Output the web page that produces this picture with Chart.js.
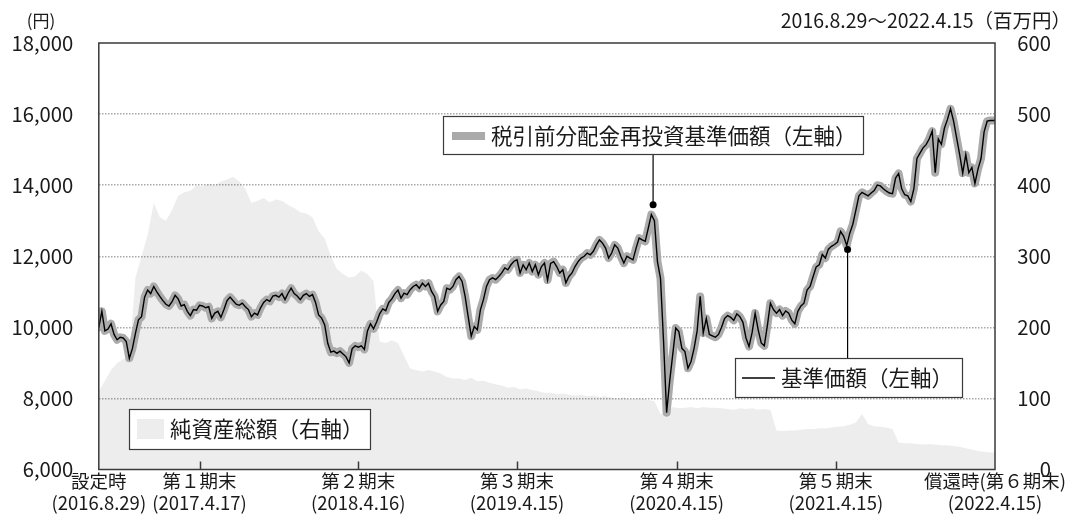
<!DOCTYPE html>
<html>
<head>
<meta charset="utf-8">
<script src="https://cdn.jsdelivr.net/npm/chart.js@4/dist/chart.umd.min.js"></script>
<style>
  html, body { margin: 0; padding: 0; background: #ffffff; }
  canvas { display: block; }
</style>
</head>
<body>
<canvas id="c" width="1073" height="515"></canvas>
<script>
// Fiscal period ends, in days from inception (2016.8.29)
const periodDays = [0, 231, 595, 959, 1325, 1690, 2055];
const periodLabels = [
  ['設定時', '(2016.8.29)'],
  ['第１期末', '(2017.4.17)'],
  ['第２期末', '(2018.4.16)'],
  ['第３期末', '(2019.4.15)'],
  ['第４期末', '(2020.4.15)'],
  ['第５期末', '(2021.4.15)'],
  ['償還時(第６期末)', '(2022.4.15)']
];

// Weekly NAV (円); the last entry is the redemption date
const navStepDays = 7;
const lastDay = 2055;
const navValues = [
  10000, 10450, 9900, 9950, 10100, 9800, 9650, 9720, 9700, 9600,
  9130, 9400, 9830, 10210, 10300, 10850, 11050, 10950, 11150, 11000,
  10870, 10750, 10650, 10600, 10720, 10900, 10800, 10600, 10640, 10450,
  10330, 10500, 10480, 10620, 10600, 10550, 10580, 10250, 10400, 10450,
  10280, 10500, 10750, 10850, 10750, 10650, 10620, 10680, 10580, 10500,
  10300, 10400, 10350, 10550, 10700, 10780, 10730, 10880, 10900, 10850,
  10950, 10780, 10960, 11100, 10950, 10880, 10780, 10900, 10950, 10870,
  10920, 10700, 10350, 10260, 10070, 9550, 9300, 9330, 9270, 9330,
  9250, 9170, 9000, 9400, 9480, 9440, 9480, 9380, 9900, 10100,
  9960, 10150, 10380, 10520, 10470, 10700, 10800, 10950, 11050, 10820,
  10960, 10920, 11060, 11150, 11200, 11100, 11240, 11150, 11240, 11010,
  10870, 10450, 10630, 10730, 11100, 11060, 11150, 11340, 11430, 11290,
  10870, 10300, 9750, 10020, 9930, 10490, 10780, 11150, 11340, 11390,
  11340, 11430, 11530, 11670, 11620, 11760, 11860, 11900, 11530, 11760,
  11620, 11810, 11570, 11760, 11480, 11710, 11810, 11330, 11800, 11850,
  11710, 11530, 11620, 11250, 11430, 11530, 11710, 11850, 11950, 12000,
  12090, 12040, 12140, 12320, 12460, 12370, 12230, 11950, 12090, 12320,
  12230, 12000, 11810, 12000, 11950, 11900, 12230, 12510, 12460, 12420,
  12790, 13170, 13000, 11850, 11380, 9600, 7600, 8480, 9230, 9980,
  9880, 9410, 9320, 8850, 9040, 9410, 9900, 10870, 9840, 10250,
  9800, 9760, 9720, 9800, 10000, 10250, 10330, 10280, 10200, 10380,
  10300, 10140, 9700, 9460, 9850, 10400, 9930, 9560, 9480, 10050,
  10680, 10500, 10400, 10500, 10330, 10460, 10400, 10200, 10100, 10450,
  10600, 10680, 11050, 11150, 11430, 11700, 11760, 12050, 11950, 12200,
  12280, 12330, 12400, 12700, 12560, 12300, 12650, 12900, 13300, 13700,
  13800, 13750, 13700, 13780, 13850, 14000, 13980, 13900, 13830, 13780,
  13760, 14200, 14330, 13900, 13730, 13700, 13540, 13900, 14750, 14900,
  15050, 15140, 15300, 15520, 14350, 15300, 15150, 15600, 15850, 16150,
  15800, 15330, 14860, 14340, 14860, 14350, 14500, 14050, 14450, 14750,
  15500, 15800, 15820, 15820, 15820
];

// Net assets (百万円), every two weeks
const assetStepDays = 14;
const assetValues = [
  110, 125, 140, 150, 155, 158, 270, 300, 330, 375,
  355, 350, 365, 385, 390, 392, 400, 398, 402, 400,
  405, 408, 412, 405, 395, 375, 378, 382, 376, 380,
  378, 372, 368, 362, 360, 355, 335, 325, 300, 282,
  275, 270, 272, 280, 275, 265, 180, 178, 182, 178,
  160, 142, 140, 138, 140, 138, 135, 130, 128, 128,
  126, 129, 124, 125, 122, 120, 118, 115, 116, 113,
  114, 112, 110, 108, 108, 106, 107, 105, 104, 105,
  103, 104, 102, 103, 101, 100, 101, 99, 100, 100,
  98, 96, 78, 80, 88, 86, 87, 88, 86, 88,
  87, 87, 86, 85, 84, 86, 85, 86, 84, 85,
  84, 55, 54, 55, 55, 56, 57, 57, 58, 58,
  59, 60, 61, 63, 66, 78, 64, 61, 60, 59,
  57, 38, 37, 37, 36, 35, 36, 35, 34, 34,
  33, 32, 30, 28, 26, 25, 24, 24
];

// Callout anchors: [day, NAV]
const reinvestCallout = [1271, 13450];
const navCallout = [1717, 12190];

const FONT = '"Noto Sans CJK JP", "Noto Sans", sans-serif';
const INK = '#1a1a1a';
const FRAME = '#3a3a3a';

const toPoints = (vals, step) => vals.map((v, i) => ({ x: Math.min(i * step, lastDay), y: v }));
const navPoints = toPoints(navValues, navStepDays);
const assetPoints = toPoints(assetValues, assetStepDays);

const fmt = n => String(n).replace(/\B(?=(\d{3})+(?!\d))/g, ',');

const decor = {
  id: 'decor',
  afterDatasetsDraw(chart) {
    const { ctx, chartArea: a, scales: { x } } = chart;
    ctx.save();
    // period-end tick marks along the bottom edge
    ctx.strokeStyle = FRAME;
    ctx.lineWidth = 1.5;
    periodDays.slice(1, -1).forEach(d => {
      const px = Math.round(x.getPixelForValue(d)) + 0.5;
      ctx.beginPath();
      ctx.moveTo(px, a.bottom);
      ctx.lineTo(px, a.bottom - 8);
      ctx.stroke();
    });
    // plot frame
    ctx.strokeRect(a.left, a.top, a.right - a.left, a.bottom - a.top);
    ctx.restore();
  },
  afterDraw(chart) {
    const { ctx, scales: { x, y } } = chart;
    ctx.save();
    ctx.textBaseline = 'middle';

    // axis unit captions
    ctx.fillStyle = INK;
    ctx.font = '17px ' + FONT;
    ctx.textAlign = 'center';
    ctx.fillText('(円)', 41, 21);
    ctx.textAlign = 'right';
    ctx.font = '19.5px ' + FONT;
    ctx.fillText('2016.8.29～2022.4.15（百万円）', 1071, 21);

    const box = (l, t, w, h) => {
      ctx.fillStyle = '#ffffff';
      ctx.fillRect(l, t, w, h);
      ctx.strokeStyle = FRAME;
      ctx.lineWidth = 1.2;
      ctx.strokeRect(l + 0.5, t + 0.5, w, h);
    };
    const dot = (px, py) => {
      ctx.fillStyle = '#000';
      ctx.beginPath();
      ctx.arc(px, py, 3.5, 0, Math.PI * 2);
      ctx.fill();
    };
    const leader = (px, y0, y1) => {
      ctx.strokeStyle = '#000';
      ctx.lineWidth = 1.2;
      ctx.beginPath();
      ctx.moveTo(px, y0);
      ctx.lineTo(px, y1);
      ctx.stroke();
    };

    ctx.font = '21.5px ' + FONT;
    ctx.textAlign = 'left';

    // reinvested NAV callout
    const r1x = x.getPixelForValue(reinvestCallout[0]);
    const r1y = y.getPixelForValue(reinvestCallout[1]);
    leader(r1x, 154, r1y);
    dot(r1x, r1y);
    box(443, 116, 420, 38);
    ctx.strokeStyle = '#aaaaaa';
    ctx.lineWidth = 8;
    ctx.beginPath();
    ctx.moveTo(452, 136);
    ctx.lineTo(485, 136);
    ctx.stroke();
    ctx.fillStyle = INK;
    ctx.fillText('税引前分配金再投資基準価額（左軸）', 491, 136);

    // NAV callout
    const r2x = x.getPixelForValue(navCallout[0]);
    const r2y = y.getPixelForValue(navCallout[1]);
    leader(r2x, r2y, 358);
    dot(r2x, r2y);
    box(735, 358, 227, 39);
    ctx.strokeStyle = '#000';
    ctx.lineWidth = 1.5;
    ctx.beginPath();
    ctx.moveTo(742, 378);
    ctx.lineTo(775, 378);
    ctx.stroke();
    ctx.fillStyle = INK;
    ctx.fillText('基準価額（左軸）', 781, 378);

    // net assets legend
    box(129, 409, 241, 40);
    ctx.fillStyle = '#ededed';
    ctx.fillRect(137, 419, 27, 20);
    ctx.fillStyle = INK;
    ctx.fillText('純資産総額（右軸）', 170, 429);

    ctx.restore();
  }
};

new Chart(document.getElementById('c'), {
  type: 'line',
  data: {
    datasets: [
      {
        label: '基準価額',
        data: navPoints,
        yAxisID: 'y',
        borderColor: '#000000',
        borderWidth: 1.4,
        pointRadius: 0,
        tension: 0,
        fill: false,
        order: 0
      },
      {
        label: '税引前分配金再投資基準価額',
        data: navPoints,
        yAxisID: 'y',
        borderColor: '#ababab',
        borderWidth: 8,
        borderJoinStyle: 'round',
        borderCapStyle: 'round',
        pointRadius: 0,
        tension: 0,
        fill: false,
        order: 1
      },
      {
        label: '純資産総額',
        data: assetPoints,
        yAxisID: 'y1',
        borderWidth: 0,
        borderColor: 'rgba(0,0,0,0)',
        backgroundColor: 'rgba(0,0,0,0.07)',
        pointRadius: 0,
        tension: 0,
        fill: 'origin',
        order: 2
      }
    ]
  },
  options: {
    responsive: false,
    devicePixelRatio: 1,
    animation: false,
    events: [],
    layout: { padding: { top: 43, right: 22, left: 0, bottom: 0 } },
    plugins: { legend: { display: false }, tooltip: { enabled: false } },
    scales: {
      x: {
        type: 'linear',
        min: 0,
        max: lastDay,
        afterBuildTicks: s => { s.ticks = periodDays.map(v => ({ value: v })); },
        afterFit: s => { s.height = 45.5; },
        grid: { display: false, drawTicks: false },
        border: { display: false },
        ticks: {
          autoSkip: false,
          maxRotation: 0,
          padding: 0.5,
          color: INK,
          font: { family: FONT, size: 18.5, lineHeight: 1.19 },
          callback: (v, i) => periodLabels[i]
        }
      },
      y: {
        position: 'left',
        min: 6000,
        max: 18000,
        afterFit: s => { s.width = 98.8; },
        ticks: {
          stepSize: 2000,
          padding: 25.5,
          color: INK,
          font: { family: FONT, size: 20.3 },
          callback: v => fmt(v)
        },
        grid: {
          drawTicks: false,
          lineWidth: 1.5,
          color: c => (c.tick && (c.tick.value === 6000 || c.tick.value === 18000)) ? 'rgba(0,0,0,0)' : '#a8a8a8'
        },
        border: { display: false, dash: [1.5, 1.5] }
      },
      y1: {
        position: 'right',
        min: 0,
        max: 600,
        afterFit: s => { s.width = 56; },
        ticks: {
          stepSize: 100,
          crossAlign: 'far',
          color: INK,
          font: { family: FONT, size: 20.3 }
        },
        grid: { display: false, drawTicks: false },
        border: { display: false }
      }
    }
  },
  plugins: [decor]
});
</script>
</body>
</html>
